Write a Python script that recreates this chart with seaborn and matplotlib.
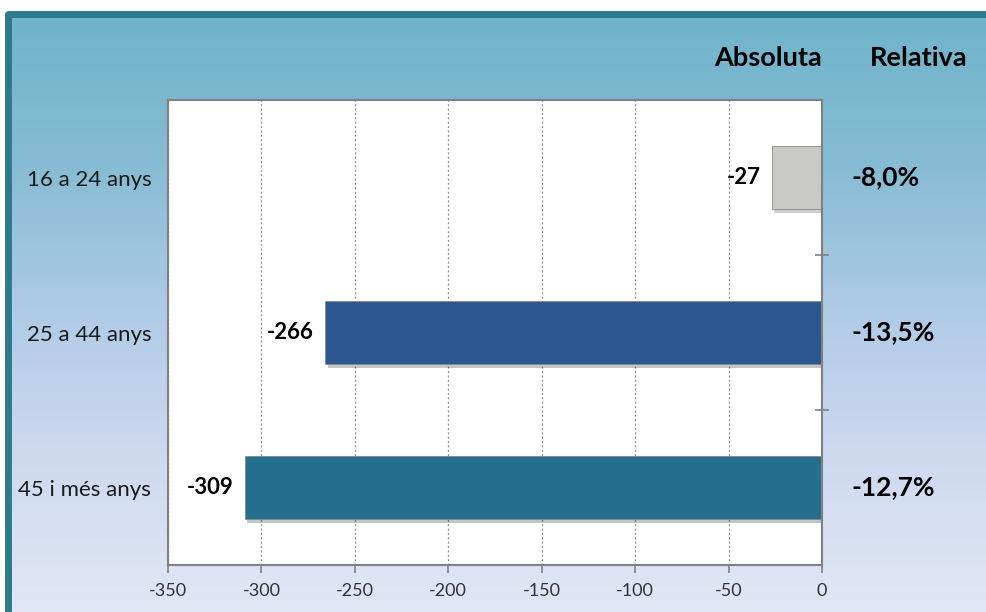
import numpy as np
import pandas as pd
import matplotlib.pyplot as plt
import matplotlib.patheffects as pe
from matplotlib.colors import LinearSegmentedColormap
import seaborn as sns

# data
groups = ['16 a 24 anys', '25 a 44 anys', '45 i més anys']
absolute = [-27, -266, -309]
relative = ['-8,0%', '-13,5%', '-12,7%']
bar_colors = ['#c9c9c7', '#2b5791', '#246f8e']
x_ticks = [-350, -300, -250, -200, -150, -100, -50, 0]

sns.set_theme(style='white')
plt.rcParams['font.family'] = ['Lato', 'DejaVu Sans']

fig = plt.figure(figsize=(9.87, 6.12), dpi=100)
fig.patch.set_facecolor('white')

# gradient background panel with teal border
bg = fig.add_axes([0, 0, 1, 1], zorder=0)
bg.set_xlim(0, 987)
bg.set_ylim(612, 0)
bg.axis('off')
cmap = LinearSegmentedColormap.from_list(
    'bg', ['#6fb4c9', '#86bcd3', '#b0cbe6', '#cfdaf0', '#e2e7f6'])
grad = np.linspace(0, 1, 256).reshape(-1, 1)
bg.imshow(grad, cmap=cmap, aspect='auto', extent=(8, 987, 612, 14), zorder=0)
bg.plot([8, 8, 987], [612, 14, 14], color='#2c7b8c', lw=5, zorder=1,
        solid_capstyle='butt')

ax = fig.add_axes([168 / 987, 1 - 565 / 612, 654 / 987, 465 / 612], zorder=2)
df = pd.DataFrame({'group': groups, 'value': absolute})
sns.barplot(data=df, x='value', y='group', hue='group', palette=bar_colors,
            orient='h', width=0.41, legend=False, ax=ax, saturation=1,
            edgecolor='#8a8a8a', linewidth=0.6)
for p in ax.patches:
    p.set_path_effects([pe.SimplePatchShadow(offset=(2, -3), alpha=0.25),
                        pe.Normal()])

ax.set_facecolor('white')
ax.set_xlim(-350, 0)
ax.set_ylim(2.5, -0.5)
ax.set_xticks(x_ticks)
ax.set_xticklabels([str(t) for t in x_ticks], color='#333333', fontsize=13)
ax.tick_params(axis='x', direction='out', length=6, width=1.2,
               color='#808080', bottom=True, pad=7)
ax.tick_params(axis='y', which='major', length=0, pad=12, labelsize=16,
               labelcolor='#1a1a1a')
ax.set_yticks([0.5, 1.5], minor=True)
ax.tick_params(axis='y', which='minor', left=False, right=True,
               direction='inout', length=10, width=1.2, color='#808080')
ax.set_xlabel('')
ax.set_ylabel('')
ax.grid(axis='x', linestyle=(0, (1.5, 2)), color='#888888', lw=0.9)
ax.set_axisbelow(True)
for s in ax.spines.values():
    s.set_color('#808080')
    s.set_linewidth(1.5)

for i, v in enumerate(absolute):
    ax.text(v - 6, i, str(v), ha='right', va='center', fontsize=16,
            fontweight='bold', color='black')
    ax.text(1.045, 1 - (i + 0.5) / 3, relative[i], transform=ax.transAxes,
            ha='left', va='center', fontsize=19, fontweight='bold',
            color='black')

fig.text(822 / 987, 1 - 58 / 612, 'Absoluta', ha='right', va='center',
         fontsize=19.5, fontweight='bold', color='black')
fig.text(968 / 987, 1 - 58 / 612, 'Relativa', ha='right', va='center',
         fontsize=19.5, fontweight='bold', color='black')

fig.savefig('out.png', dpi=100)
